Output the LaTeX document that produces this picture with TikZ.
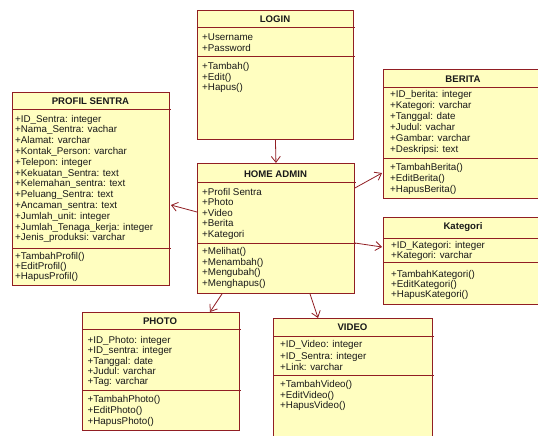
\documentclass[tikz,border=0pt]{standalone}
\usepackage{fontspec}
\setmainfont{Liberation Sans}
\usetikzlibrary{arrows.meta,calc}
\definecolor{bord}{RGB}{145,30,35}
\definecolor{fillc}{RGB}{255,254,192}
\definecolor{txtc}{RGB}{25,25,25}
\tikzset{
  cls/.style={draw=bord, fill=fillc, line width=0.9pt, inner sep=0pt, anchor=north west},
  sepl/.style={draw=bord, line width=0.9pt},
  ttl/.style={anchor=base, inner sep=0pt, text=txtc, font=\bfseries\fontsize{9.6}{10}\selectfont},
  txt/.style={anchor=base west, inner sep=0pt, text=txtc, font=\fontsize{9.8}{10}\selectfont},
  arr/.style={draw=bord, line width=0.8pt, -{Straight Barb[length=6pt,width=9pt]}},
}
\begin{document}
\begin{tikzpicture}[x=1pt,y=-1pt]
\useasboundingbox[fill=white] (0,0) rectangle (538,436);

% LOGIN
\node[cls, minimum width=156pt, minimum height=129pt] (login) at (197,10) {};
\draw[sepl] (197,27) -- (355,27);
\draw[sepl] (197,56) -- (355,56);
\node[ttl] (login-t) at (275,22.5) {LOGIN};
\foreach \t [count=\i from 0] in {+Username,+Password}
  \node[txt] (login-a\i) at (202,41+10.5*\i) {\t};
\foreach \t [count=\i from 0] in {+Tambah(),+Edit(),+Hapus()}
  \node[txt] (login-m\i) at (202,69.5+10.7*\i) {\t};

% HOME ADMIN
\node[cls, minimum width=157pt, minimum height=130pt] (home) at (197,163) {};
\draw[sepl] (197,182) -- (356,182);
\draw[sepl] (197,243) -- (356,243);
\node[ttl] (home-t) at (275.5,177.3) {HOME ADMIN};
\foreach \t [count=\i from 0] in {+Profil Sentra,+Photo,+Video,+Berita,+Kategori}
  \node[txt] (home-a\i) at (202,195.5+10.4*\i) {\t};
\foreach \t [count=\i from 0] in {+Melihat(),+Menambah(),+Mengubah(),+Menghapus()}
  \node[txt] (home-m\i) at (202,254.3+10.7*\i) {\t};

% PROFIL SENTRA
\node[cls, minimum width=157pt, minimum height=193pt] (profil) at (12,92) {};
\draw[sepl] (12,109) -- (171,109);
\draw[sepl] (12,248) -- (171,248);
\node[ttl] (profil-t) at (90.5,104) {PROFIL SENTRA};
\foreach \t [count=\i from 0] in {+ID\_Sentra: integer,+Nama\_Sentra: vachar,+Alamat: varchar,+Kontak\_Person: varchar,+Telepon: integer,+Kekuatan\_Sentra: text,+Kelemahan\_sentra: text,+Peluang\_Sentra: text,+Ancaman\_sentra: text,+Jumlah\_unit: integer,+Jumlah\_Tenaga\_kerja: integer,+Jenis\_produksi: varchar}
  \node[txt] (profil-a\i) at (15,122+10.8*\i) {\t};
\foreach \t [count=\i from 0] in {+TambahProfil(),+EditProfil(),+HapusProfil()}
  \node[txt] (profil-m\i) at (15,259+10.4*\i) {\t};

% BERITA
\node[cls, minimum width=160pt, minimum height=129pt] (berita) at (383,69) {};
\draw[sepl] (383,87) -- (543,87);
\draw[sepl] (383,158) -- (543,158);
\node[ttl] (berita-t) at (463,82.3) {BERITA};
\foreach \t [count=\i from 0] in {+ID\_berita: integer,+Kategori: varchar,+Tanggal: date,+Judul: vachar,+Gambar: varchar,+Deskripsi: text}
  \node[txt] (berita-a\i) at (390,97.7+10.9*\i) {\t};
\foreach \t [count=\i from 0] in {+TambahBerita(),+EditBerita(),+HapusBerita()}
  \node[txt] (berita-m\i) at (390,170.7+10.7*\i) {\t};

% Kategori
\node[cls, minimum width=160pt, minimum height=87pt] (kategori) at (383,217) {};
\draw[sepl] (383,238) -- (543,238);
\draw[sepl] (383,262) -- (543,262);
\node[ttl] (kategori-t) at (463,229) {Kategori};
\foreach \t [count=\i from 0] in {+ID\_Kategori: integer,+Kategori: varchar}
  \node[txt] (kategori-a\i) at (391,248.3+10*\i) {\t};
\foreach \t [count=\i from 0] in {+TambahKategori(),+EditKategori(),+HapusKategori()}
  \node[txt] (kategori-m\i) at (391,277+10*\i) {\t};

% PHOTO
\node[cls, minimum width=156.5pt, minimum height=118pt] (photo) at (82,312) {};
\draw[sepl] (82,329) -- (240.5,329);
\draw[sepl] (82,390) -- (240.5,390);
\node[ttl] (photo-t) at (160,324) {PHOTO};
\foreach \t [count=\i from 0] in {+ID\_Photo: integer,+ID\_sentra: integer,+Tanggal: date,+Judul: varchar,+Tag: varchar}
  \node[txt] (photo-a\i) at (87.5,343.3+10.4*\i) {\t};
\foreach \t [count=\i from 0] in {+TambahPhoto(),+EditPhoto(),+HapusPhoto()}
  \node[txt] (photo-m\i) at (87.5,402.7+11*\i) {\t};

% VIDEO
\node[cls, minimum width=159pt, minimum height=130pt] (video) at (273,318) {};
\draw[sepl] (273,336) -- (434,336);
\draw[sepl] (273,375) -- (434,375);
\node[ttl] (video-t) at (352.5,330.7) {VIDEO};
\foreach \t [count=\i from 0] in {+ID\_Video: integer,+ID\_Sentra: integer,+Link: varchar}
  \node[txt] (video-a\i) at (280,347.7+11.5*\i) {\t};
\foreach \t [count=\i from 0] in {+TambahVideo(),+EditVideo(),+HapusVideo()}
  \node[txt] (video-m\i) at (280,387.3+10.7*\i) {\t};

% connectors
\draw[arr] (login.south) -- (home.north);
\draw[arr] ($(home.north west)+(0,49)$) -- ($(profil.north east)+(1,113)$);
\draw[arr] ($(home.north east)+(0,25)$) -- ($(berita.north west)+(-1,104)$);
\draw[arr] ($(home.north east)+(0,80)$) -- ($(kategori.north west)+(-1,30)$);
\draw[arr] ($(home.south west)+(25,0)$) -- ($(photo.north west)+(128,0)$);
\draw[arr] ($(home.south west)+(113,0)$) -- ($(video.north west)+(45,0)$);
\end{tikzpicture}
\end{document}
